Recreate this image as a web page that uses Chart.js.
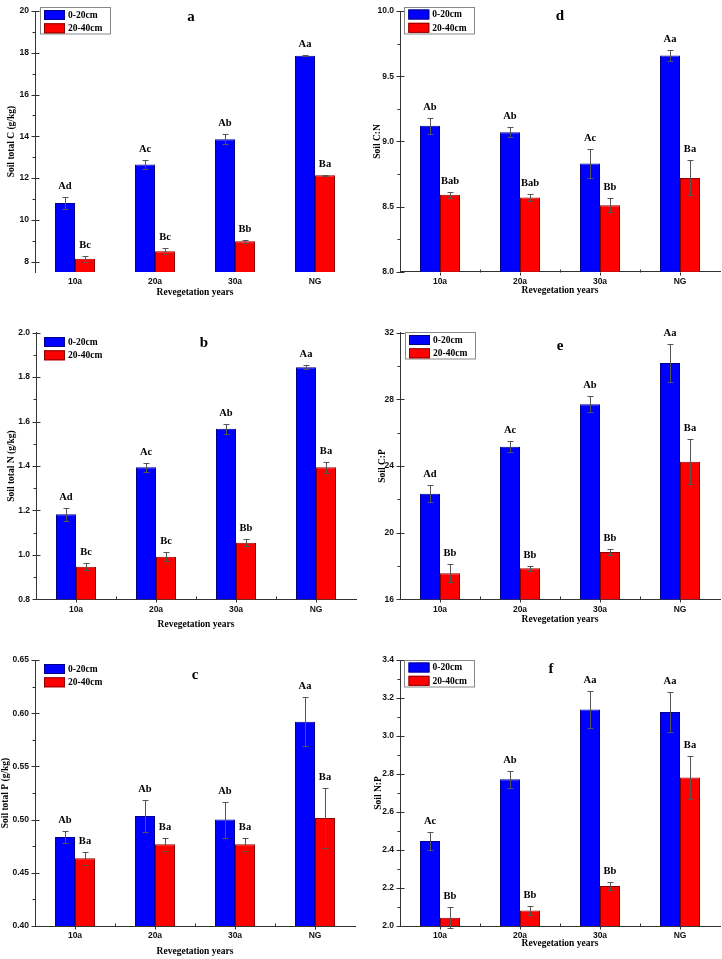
<!DOCTYPE html>
<html>
<head>
<meta charset="utf-8">
<script src="https://cdn.jsdelivr.net/npm/chart.js@4.4.1/dist/chart.umd.min.js"></script>
<style>
html, body { margin: 0; padding: 0; background: #fff; overflow: hidden; }
#wrap { position: relative; width: 722px; height: 959px; }
canvas { position: absolute; }
</style>
</head>
<body>
<div id="wrap">
  <canvas id="chartA" width="361" height="320" style="left:0;top:0"></canvas>
  <canvas id="chartD" width="361" height="320" style="left:361px;top:0"></canvas>
  <canvas id="chartB" width="361" height="320" style="left:0;top:320px"></canvas>
  <canvas id="chartE" width="361" height="320" style="left:361px;top:320px"></canvas>
  <canvas id="chartC" width="361" height="319" style="left:0;top:640px"></canvas>
  <canvas id="chartF" width="361" height="319" style="left:361px;top:640px"></canvas>
</div>
<script>
// 공통 범주
const years = ['10a', '20a', '30a', 'NG'];
const layerNames = ['0-20cm', '20-40cm'];

// a: Soil total C (g/kg)
const totalC_top = [10.8, 12.65, 13.86, 17.86];
const totalC_topErr = [0.3, 0.23, 0.23, 0.03];
const totalC_sub = [8.14, 8.5, 8.97, 12.14];
const totalC_subErr = [0.14, 0.16, 0.07, 0.03];
const totalC_topLetters = ['Ad', 'Ac', 'Ab', 'Aa'];
const totalC_subLetters = ['Bc', 'Bc', 'Bb', 'Ba'];
const totalC_ticks = [8, 10, 12, 14, 16, 18, 20];

// b: Soil total N (g/kg)
const totalN_top = [1.183, 1.394, 1.568, 1.845];
const totalN_topErr = [0.03, 0.02, 0.022, 0.01];
const totalN_sub = [0.947, 0.992, 1.055, 1.394];
const totalN_subErr = [0.015, 0.02, 0.015, 0.025];
const totalN_topLetters = ['Ad', 'Ac', 'Ab', 'Aa'];
const totalN_subLetters = ['Bc', 'Bc', 'Bb', 'Ba'];
const totalN_ticks = [0.8, 1.0, 1.2, 1.4, 1.6, 1.8, 2.0];

// c: Soil total P (g/kg)
const totalP_top = [0.4836, 0.5034, 0.50, 0.592];
const totalP_topErr = [0.006, 0.015, 0.017, 0.023];
const totalP_sub = [0.4636, 0.4768, 0.4768, 0.5015];
const totalP_subErr = [0.006, 0.006, 0.006, 0.028];
const totalP_topLetters = ['Ab', 'Ab', 'Ab', 'Aa'];
const totalP_subLetters = ['Ba', 'Ba', 'Ba', 'Ba'];
const totalP_ticks = [0.40, 0.45, 0.50, 0.55, 0.60, 0.65];

// d: Soil C:N
const ratioCN_top = [9.12, 9.07, 8.83, 9.66];
const ratioCN_topErr = [0.06, 0.04, 0.11, 0.04];
const ratioCN_sub = [8.59, 8.57, 8.51, 8.72];
const ratioCN_subErr = [0.025, 0.03, 0.055, 0.135];
const ratioCN_topLetters = ['Ab', 'Ab', 'Ac', 'Aa'];
const ratioCN_subLetters = ['Bab', 'Bab', 'Bb', 'Ba'];
const ratioCN_ticks = [8.0, 8.5, 9.0, 9.5, 10.0];

// e: Soil C:P
const ratioCP_top = [22.34, 25.16, 27.7, 30.18];
const ratioCP_topErr = [0.52, 0.32, 0.48, 1.14];
const ratioCP_sub = [17.56, 17.86, 18.84, 24.26];
const ratioCP_subErr = [0.54, 0.14, 0.16, 1.34];
const ratioCP_topLetters = ['Ad', 'Ac', 'Ab', 'Aa'];
const ratioCP_subLetters = ['Bb', 'Bb', 'Bb', 'Ba'];
const ratioCP_ticks = [16, 20, 24, 28, 32];

// f: Soil N:P
const ratioNP_top = [2.447, 2.772, 3.14, 3.126];
const ratioNP_topErr = [0.046, 0.046, 0.097, 0.107];
const ratioNP_sub = [2.044, 2.081, 2.21, 2.782];
const ratioNP_subErr = [0.056, 0.024, 0.02, 0.112];
const ratioNP_topLetters = ['Ac', 'Ab', 'Aa', 'Aa'];
const ratioNP_subLetters = ['Bb', 'Bb', 'Bb', 'Ba'];
const ratioNP_ticks = [2.0, 2.2, 2.4, 2.6, 2.8, 3.0, 3.2, 3.4];

const serif = "'Liberation Serif', 'Times New Roman', serif";
const sans = "'Liberation Sans', Arial, sans-serif";
const axisColor = '#333';

// 오차막대 + 유의성 문자
const barDecor = {
  id: 'barDecor',
  afterDatasetsDraw(chart) {
    const ctx = chart.ctx;
    const yScale = chart.scales.y;
    ctx.save();
    chart.data.datasets.forEach((ds, i) => {
      chart.getDatasetMeta(i).data.forEach((bar, j) => {
        const v = ds.data[j], e = ds.errors[j];
        const yt = Math.round(yScale.getPixelForValue(v + e)) + 0.5;
        const yb = Math.round(yScale.getPixelForValue(v - e)) + 0.5;
        const x = Math.round(bar.x) + 0.5;
        ctx.strokeStyle = '#555';
        ctx.lineWidth = 1;
        ctx.beginPath();
        ctx.moveTo(x, yt); ctx.lineTo(x, yb);
        ctx.moveTo(x - 3, yt); ctx.lineTo(x + 3, yt);
        ctx.moveTo(x - 3, yb); ctx.lineTo(x + 3, yb);
        ctx.stroke();
        ctx.fillStyle = '#000';
        ctx.font = 'bold 10.5px ' + serif;
        ctx.textAlign = 'center';
        ctx.textBaseline = 'alphabetic';
        ctx.fillText(ds.letters[j], bar.x, yt - 8.5);
      });
    });
    ctx.restore();
  }
};

// 눈금(주/보조), 범례, 패널 문자
const panelMarks = {
  id: 'panelMarks',
  afterDraw(chart, args, opts) {
    const ctx = chart.ctx;
    const y = chart.scales.y, x = chart.scales.x;
    const area = chart.chartArea;
    ctx.save();
    ctx.strokeStyle = axisColor;
    ctx.lineWidth = 1;
    ctx.beginPath();
    const ax = Math.round(area.left) + 0.5;
    const majors = y.ticks.map(t => t.value);
    majors.forEach((v, k) => {
      const py = Math.round(y.getPixelForValue(v)) + 0.5;
      ctx.moveTo(ax - 4, py); ctx.lineTo(ax + 4, py);
      if (k < majors.length - 1) {
        const pm = Math.round(y.getPixelForValue((v + majors[k + 1]) / 2)) + 0.5;
        ctx.moveTo(ax - 3, pm); ctx.lineTo(ax, pm);
      }
    });
    if (opts.xLine) {
      const by = Math.round(area.bottom) + 0.5;
      for (let k = 0; k < years.length; k++) {
        const px = Math.round(x.getPixelForValue(k)) + 0.5;
        ctx.moveTo(px, by); ctx.lineTo(px, by + 3);
        if (k < years.length - 1) {
          const pb = Math.round((x.getPixelForValue(k) + x.getPixelForValue(k + 1)) / 2) + 0.5;
          ctx.moveTo(pb, by); ctx.lineTo(pb, by - 3);
        }
      }
    }
    ctx.stroke();

    // 범례
    const lg = opts.legend;
    if (lg.box) {
      ctx.strokeStyle = '#888';
      ctx.strokeRect(Math.round(lg.x - 4.5) + 0.5, Math.round(lg.y - 3) + 0.5, 70, 26.5);
    }
    chart.data.datasets.forEach((ds, i) => {
      const sy = lg.y + i * 13.3;
      ctx.fillStyle = ds.backgroundColor;
      ctx.fillRect(lg.x, sy, 21, 10);
      ctx.strokeStyle = ds.borderColor;
      ctx.strokeRect(lg.x + 0.5, sy + 0.5, 20, 9);
      ctx.fillStyle = '#000';
      ctx.font = 'bold 9.5px ' + serif;
      ctx.textAlign = 'left';
      ctx.textBaseline = 'middle';
      ctx.fillText(ds.label, lg.x + 24, sy + 5.5);
    });

    // 패널 문자
    ctx.font = 'bold 15px ' + serif;
    ctx.textAlign = 'center';
    ctx.textBaseline = 'middle';
    ctx.fillStyle = '#000';
    ctx.fillText(opts.letter, opts.letterX, opts.letterY);
    ctx.restore();
  }
};

function makeChart(canvasId, cfg) {
  const canvas = document.getElementById(canvasId);
  const W = canvas.width, H = canvas.height;
  const tickFont = { family: sans, size: 8.5, weight: 'bold' };
  const titleFont = { family: serif, size: 9.5, weight: 'bold' };
  return new Chart(canvas, {
    type: 'bar',
    data: {
      labels: years,
      datasets: [
        {
          label: layerNames[0],
          data: cfg.top,
          errors: cfg.topErr,
          letters: cfg.topLetters,
          backgroundColor: '#0000ff',
          borderColor: '#00008a',
          borderWidth: 1
        },
        {
          label: layerNames[1],
          data: cfg.sub,
          errors: cfg.subErr,
          letters: cfg.subLetters,
          backgroundColor: '#ff0000',
          borderColor: '#8a0000',
          borderWidth: 1
        }
      ]
    },
    options: {
      responsive: false,
      animation: false,
      devicePixelRatio: 1,
      layout: { padding: { top: cfg.top0, right: W - cfg.left - 320, bottom: 0, left: 0 } },
      datasets: { bar: { categoryPercentage: 0.5, barPercentage: 1 } },
      plugins: {
        legend: { display: false },
        tooltip: { enabled: false },
        panelMarks: { legend: cfg.legend, letter: cfg.letter, letterX: cfg.letterX, letterY: cfg.letterY, xLine: cfg.xLine }
      },
      scales: {
        x: {
          offset: true,
          grid: { display: false, drawTicks: false, tickLength: 0 },
          border: { display: cfg.xLine, color: axisColor },
          ticks: { font: tickFont, color: '#111', padding: 5 },
          title: { display: true, text: 'Revegetation years', font: titleFont, color: '#000', padding: { top: 0, bottom: cfg.xTitlePad } },
          afterFit: s => { s.height = H - cfg.bottom; }
        },
        y: {
          min: cfg.yMin !== undefined ? cfg.yMin : cfg.ticks[0],
          max: cfg.ticks[cfg.ticks.length - 1],
          afterBuildTicks: s => { s.ticks = cfg.ticks.map(v => ({ value: v })); },
          grid: { display: false, drawTicks: false, tickLength: 0 },
          border: { color: axisColor },
          ticks: { font: tickFont, color: '#111', padding: 6, callback: v => Number(v).toFixed(cfg.dec) },
          title: { display: true, text: cfg.yTitle, font: titleFont, color: '#000', padding: { top: cfg.yTitlePad, bottom: 0 } },
          afterFit: s => { s.width = cfg.left; }
        }
      }
    },
    plugins: [barDecor, panelMarks]
  });
}

// a 의 y축은 7.5부터 시작
makeChart('chartA', {
  top: totalC_top, topErr: totalC_topErr, sub: totalC_sub, subErr: totalC_subErr,
  topLetters: totalC_topLetters, subLetters: totalC_subLetters,
  ticks: totalC_ticks, yMin: 7.5, dec: 0, yTitle: 'Soil total C (g/kg)',
  left: 35, top0: 6.7, bottom: 272, xLine: false, xTitlePad: 22, yTitlePad: 6,
  legend: { x: 44, y: 10, box: true }, letter: 'a', letterX: 191, letterY: 17
});

makeChart('chartD', {
  top: ratioCN_top, topErr: ratioCN_topErr, sub: ratioCN_sub, subErr: ratioCN_subErr,
  topLetters: ratioCN_topLetters, subLetters: ratioCN_subLetters,
  ticks: ratioCN_ticks, dec: 1, yTitle: 'Soil C:N',
  left: 39, top0: 6, bottom: 271.7, xLine: true, xTitlePad: 23.6, yTitlePad: 11,
  legend: { x: 47.3, y: 9.5, box: true }, letter: 'd', letterX: 199, letterY: 16
});

makeChart('chartB', {
  top: totalN_top, topErr: totalN_topErr, sub: totalN_sub, subErr: totalN_subErr,
  topLetters: totalN_topLetters, subLetters: totalN_subLetters,
  ticks: totalN_ticks, dec: 1, yTitle: 'Soil total N (g/kg)',
  left: 36, top0: 12.7, bottom: 279.3, xLine: true, xTitlePad: 10, yTitlePad: 6,
  legend: { x: 44, y: 17, box: false }, letter: 'b', letterX: 204, letterY: 23
});

makeChart('chartE', {
  top: ratioCP_top, topErr: ratioCP_topErr, sub: ratioCP_sub, subErr: ratioCP_subErr,
  topLetters: ratioCP_topLetters, subLetters: ratioCP_subLetters,
  ticks: ratioCP_ticks, dec: 0, yTitle: 'Soil C:P',
  left: 39, top0: 12.7, bottom: 279.3, xLine: true, xTitlePad: 15, yTitlePad: 16,
  legend: { x: 48, y: 15, box: true }, letter: 'e', letterX: 199, letterY: 26
});

makeChart('chartC', {
  top: totalP_top, topErr: totalP_topErr, sub: totalP_sub, subErr: totalP_subErr,
  topLetters: totalP_topLetters, subLetters: totalP_subLetters,
  ticks: totalP_ticks, dec: 2, yTitle: 'Soil total P (g/kg)',
  left: 35, top0: 20, bottom: 286, xLine: true, xTitlePad: 1.6, yTitlePad: 0,
  legend: { x: 44, y: 24, box: false }, letter: 'c', letterX: 195, letterY: 35
});

makeChart('chartF', {
  top: ratioNP_top, topErr: ratioNP_topErr, sub: ratioNP_sub, subErr: ratioNP_subErr,
  topLetters: ratioNP_topLetters, subLetters: ratioNP_subLetters,
  ticks: ratioNP_ticks, dec: 1, yTitle: 'Soil N:P',
  left: 39, top0: 20, bottom: 286, xLine: true, xTitlePad: 10, yTitlePad: 12,
  legend: { x: 47.5, y: 22.5, box: true }, letter: 'f', letterX: 190, letterY: 29
});
</script>
</body>
</html>
